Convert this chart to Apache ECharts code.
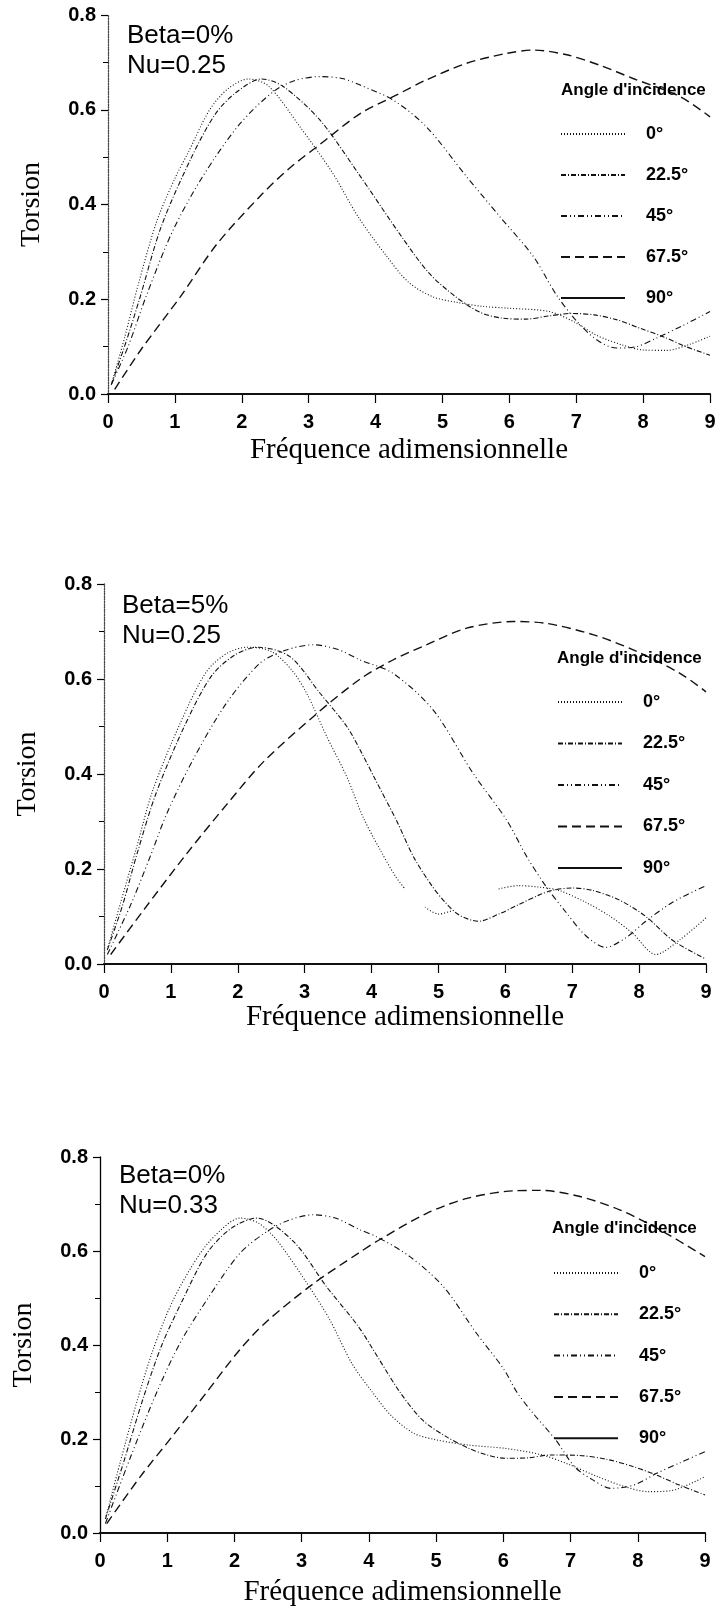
<!DOCTYPE html>
<html>
<head>
<meta charset="utf-8">
<script src="https://cdn.jsdelivr.net/npm/echarts/dist/echarts.min.js"></script>
<style>
  html, body { margin: 0; padding: 0; background: #ffffff; }
  #chart { width: 719px; height: 1613px; }
</style>
</head>
<body>
<div id="chart"></div>
<script>
// Torsion response vs dimensionless frequency, three parameter sets, five incidence angles.
const angles = ['0°', '22.5°', '45°', '67.5°', '90°'];
const xTicks = [0, 1, 2, 3, 4, 5, 6, 7, 8, 9];
const yTicks = [0.0, 0.2, 0.4, 0.6, 0.8];

// Beta=0%, Nu=0.25
const p1_a0 = [[0.05,0.02],[0.25,0.12],[0.45,0.23],[0.73,0.365],[1.0,0.455],[1.2,0.51],[1.52,0.6],[1.8,0.645],[2.1,0.665],[2.4,0.65],[2.87,0.564],[3.36,0.466],[3.74,0.374],[4.17,0.29],[4.5,0.235],[4.86,0.205],[5.23,0.193],[5.6,0.185],[6.0,0.181],[6.6,0.174],[7.0,0.15],[7.3,0.124],[7.7,0.103],[8.0,0.093],[8.35,0.092],[8.7,0.105],[9.0,0.122]];
const p1_a22 = [[0.05,0.02],[0.27,0.11],[0.47,0.2],[0.8,0.355],[1.25,0.5],[1.6,0.59],[1.9,0.635],[2.3,0.665],[2.62,0.649],[3.17,0.578],[3.74,0.466],[4.4,0.33],[4.8,0.255],[5.2,0.205],[5.57,0.172],[5.9,0.16],[6.25,0.158],[6.6,0.165],[6.93,0.17],[7.27,0.167],[7.6,0.157],[7.95,0.139],[8.3,0.121],[8.64,0.1],[9.0,0.082]];
const p1_a45 = [[0.05,0.02],[0.3,0.1],[0.58,0.21],[0.97,0.345],[1.42,0.46],[1.97,0.57],[2.47,0.638],[2.8,0.662],[3.17,0.67],[3.5,0.666],[3.77,0.652],[4.27,0.62],[4.76,0.564],[5.36,0.459],[5.86,0.374],[6.36,0.29],[6.7,0.21],[7.0,0.155],[7.3,0.115],[7.6,0.097],[7.9,0.1],[8.2,0.118],[8.6,0.145],[9.0,0.174]];
const p1_a67 = [[0.1,0.01],[0.5,0.095],[1.08,0.205],[1.62,0.315],[2.27,0.417],[2.7,0.475],[3.17,0.527],[3.77,0.592],[4.27,0.628],[4.76,0.663],[5.36,0.698],[5.96,0.719],[6.36,0.726],[6.86,0.716],[7.35,0.694],[7.85,0.666],[8.55,0.628],[9.0,0.585]];
const p1_a90 = [[0,0],[9,0]];

// Beta=5%, Nu=0.25
const p2_a0 = [[0.05,0.03],[0.25,0.13],[0.49,0.247],[0.73,0.366],[1.14,0.507],[1.53,0.615],[1.85,0.655],[2.15,0.667],[2.5,0.658],[2.8,0.62],[3.03,0.57],[3.33,0.479],[3.63,0.394],[3.87,0.31],[4.13,0.24],[4.36,0.184],[4.49,0.16],[4.65,null],[4.8,0.12],[5.0,0.105],[5.2,0.112],[5.5,null],[5.9,0.158],[6.2,0.165],[6.5,0.162],[6.8,0.155],[7.2,0.13],[7.57,0.1],[7.9,0.065],[8.25,0.02],[8.6,0.05],[9.0,0.097]];
const p2_a22 = [[0.05,0.03],[0.27,0.12],[0.5,0.235],[0.78,0.36],[1.2,0.5],[1.6,0.605],[1.95,0.65],[2.3,0.667],[2.78,0.647],[3.23,0.57],[3.63,0.5],[3.85,0.445],[4.05,0.39],[4.38,0.3],[4.63,0.225],[4.9,0.165],[5.1,0.13],[5.31,0.103],[5.6,0.09],[5.9,0.105],[6.2,0.125],[6.5,0.145],[6.7,0.155],[7.0,0.16],[7.3,0.155],[7.7,0.135],[8.1,0.1],[8.5,0.05],[9.0,0.01]];
const p2_a45 = [[0.05,0.02],[0.4,0.125],[0.69,0.226],[0.94,0.317],[1.33,0.43],[1.83,0.549],[2.33,0.633],[2.7,0.66],[3.13,0.672],[3.5,0.662],[3.83,0.64],[4.32,0.612],[4.92,0.535],[5.52,0.401],[6.02,0.303],[6.32,0.226],[6.6,0.165],[6.9,0.11],[7.2,0.06],[7.5,0.035],[7.8,0.055],[8.1,0.09],[8.5,0.13],[9.0,0.165]];
const p2_a67 = [[0.1,0.02],[0.6,0.115],[1.24,0.233],[1.83,0.335],[2.38,0.425],[3.18,0.527],[3.83,0.6],[4.32,0.64],[4.82,0.672],[5.42,0.707],[6.12,0.721],[6.62,0.717],[7.32,0.693],[7.92,0.661],[8.61,0.612],[9.0,0.573]];
const p2_a90 = [[0,0],[9,0]];

// Beta=0%, Nu=0.33
const p3_a0 = [[0.08,0.03],[0.3,0.15],[0.55,0.28],[0.79,0.39],[1.09,0.496],[1.49,0.595],[1.8,0.645],[2.08,0.67],[2.35,0.66],[2.63,0.623],[3.08,0.531],[3.42,0.453],[3.75,0.36],[4.05,0.3],[4.33,0.25],[4.67,0.212],[5.01,0.198],[5.49,0.187],[6.03,0.18],[6.58,0.166],[6.99,0.145],[7.4,0.12],[7.8,0.099],[8.15,0.088],[8.49,0.09],[9.0,0.12]];
const p3_a22 = [[0.08,0.03],[0.35,0.15],[0.65,0.29],[0.92,0.4],[1.21,0.49],[1.59,0.595],[1.95,0.648],[2.33,0.67],[2.88,0.62],[3.37,0.524],[3.84,0.44],[4.15,0.37],[4.46,0.3],[4.8,0.24],[5.15,0.205],[5.49,0.18],[5.76,0.166],[6.03,0.159],[6.37,0.16],[6.71,0.166],[7.12,0.165],[7.53,0.157],[7.94,0.141],[8.28,0.123],[8.62,0.102],[9.0,0.081]];
const p3_a45 = [[0.08,0.02],[0.45,0.16],[0.84,0.298],[1.19,0.404],[1.59,0.496],[2.08,0.595],[2.48,0.641],[2.8,0.665],[3.17,0.677],[3.5,0.67],[3.87,0.645],[4.12,0.63],[4.61,0.588],[5.11,0.524],[5.6,0.425],[6.0,0.35],[6.2,0.3],[6.44,0.255],[6.78,0.198],[7.06,0.141],[7.33,0.113],[7.6,0.095],[7.94,0.102],[8.28,0.127],[8.62,0.149],[9.0,0.173]];
const p3_a67 = [[0.1,0.02],[0.6,0.12],[1.1,0.21],[1.59,0.3],[2.08,0.39],[2.48,0.45],[3.17,0.53],[3.84,0.595],[4.17,0.625],[4.86,0.68],[5.46,0.712],[6.15,0.728],[6.55,0.729],[7.14,0.716],[7.74,0.687],[8.33,0.645],[9.0,0.588]];
const p3_a90 = [[0,0],[9,0]];

const panelLabels = ['Beta=0%\nNu=0.25', 'Beta=5%\nNu=0.25', 'Beta=0%\nNu=0.33'];
const panelData = [
  [p1_a0, p1_a22, p1_a45, p1_a67, p1_a90],
  [p2_a0, p2_a22, p2_a45, p2_a67, p2_a90],
  [p3_a0, p3_a22, p3_a45, p3_a67, p3_a90]
];

// Layout of each panel (pixels)
const layout = [
  { grid: { left: 108, top: 15, width: 602, height: 379 }, axisDotted: true,  nameGapX: 42,
    note: { left: 127, top: 21 }, legTitle: { left: 561, top: 80 }, legend: { left: 560, top: 125, gap: 23 } },
  { grid: { left: 104, top: 584, width: 602, height: 380 }, axisDotted: true, nameGapX: 38,
    note: { left: 122, top: 591 }, legTitle: { left: 557, top: 648 }, legend: { left: 557, top: 693, gap: 23.5 } },
  { grid: { left: 100, top: 1157, width: 605, height: 376 }, axisDotted: false, nameGapX: 45,
    note: { left: 119, top: 1161 }, legTitle: { left: 552, top: 1218 }, legend: { left: 553, top: 1264, gap: 23.3 } }
];

const INK = '#111111';
const lineLook = {
  '0°':    { type: [1, 2],             width: 1.1 },
  '22.5°': { type: [5, 2, 1, 2],       width: 1.1 },
  '45°':   { type: [6, 3, 1, 3, 1, 3], width: 1.1 },
  '67.5°': { type: [9, 5],             width: 1.4 },
  '90°':   { type: 'solid',            width: 2.2 }
};

const sans = 'Liberation Sans, Arial, sans-serif';
const serif = 'Liberation Serif, Times New Roman, serif';

const grids = [], xAxes = [], yAxes = [], series = [], legends = [], titles = [];

layout.forEach((L, p) => {
  grids.push(Object.assign({ containLabel: false }, L.grid));

  xAxes.push({
    gridIndex: p, type: 'value', min: 0, max: 9, interval: 1,
    axisLine: { show: true, onZero: false, lineStyle: { color: '#000', width: 2 } },
    axisTick: { show: true, length: 9, lineStyle: { color: '#000', width: 1.2 } },
    axisLabel: { margin: 18, color: '#000', fontFamily: sans, fontWeight: 'bold', fontSize: 20,
                 formatter: v => String(v) },
    splitLine: { show: false },
    name: 'Fréquence adimensionnelle', nameLocation: 'middle', nameGap: L.nameGapX,
    nameTextStyle: { fontFamily: serif, fontSize: 29, color: '#000' }
  });

  yAxes.push({
    gridIndex: p, type: 'value', min: 0, max: 0.8, interval: 0.2,
    axisLine: { show: true, onZero: false,
                lineStyle: { color: L.axisDotted ? '#444' : '#000', width: 1.3, type: L.axisDotted ? 'dotted' : 'solid' } },
    axisTick: { show: true, length: 7, lineStyle: { color: '#000', width: 1.2 } },
    minorTick: { show: true, splitNumber: 2, length: 5, lineStyle: { color: '#000', width: 1 } },
    axisLabel: { margin: 12, color: '#000', fontFamily: sans, fontWeight: 'bold', fontSize: 20,
                 formatter: v => v.toFixed(1) },
    splitLine: { show: false }, minorSplitLine: { show: false },
    name: 'Torsion', nameLocation: 'middle', nameGap: 62, nameRotate: 90,
    nameTextStyle: { fontFamily: serif, fontSize: 28, color: '#000' }
  });

  angles.forEach((a, k) => {
    series.push({
      type: 'line', name: a, xAxisIndex: p, yAxisIndex: p,
      data: panelData[p][k],
      symbol: 'none', showSymbol: false, smooth: 0.3, connectNulls: false,
      lineStyle: Object.assign({ color: INK }, lineLook[a]),
      itemStyle: { color: INK },
      z: a === '90°' ? 3 : 2
    });
  });

  legends.push({
    orient: 'vertical', left: L.legend.left, top: L.legend.top, padding: 0,
    itemWidth: 64, itemHeight: 14, itemGap: L.legend.gap,
    selectedMode: false, data: angles,
    itemStyle: { opacity: 0 },
    textStyle: { fontFamily: sans, fontWeight: 'bold', fontSize: 18, color: '#000', padding: [0, 0, 0, 16] }
  });

  titles.push({
    text: panelLabels[p], left: L.note.left, top: L.note.top, padding: 0,
    textStyle: { fontFamily: sans, fontWeight: 'normal', fontSize: 26, lineHeight: 30, color: '#000' }
  });
  titles.push({
    text: "Angle d'incidence", left: L.legTitle.left, top: L.legTitle.top, padding: 0,
    textStyle: { fontFamily: sans, fontWeight: 'bold', fontSize: 17, lineHeight: 20, color: '#000' }
  });
});

const chart = echarts.init(document.getElementById('chart'), null, { renderer: 'canvas' });
chart.setOption({
  backgroundColor: '#ffffff',
  animation: false,
  title: titles,
  legend: legends,
  grid: grids,
  xAxis: xAxes,
  yAxis: yAxes,
  series: series
});
</script>
</body>
</html>
